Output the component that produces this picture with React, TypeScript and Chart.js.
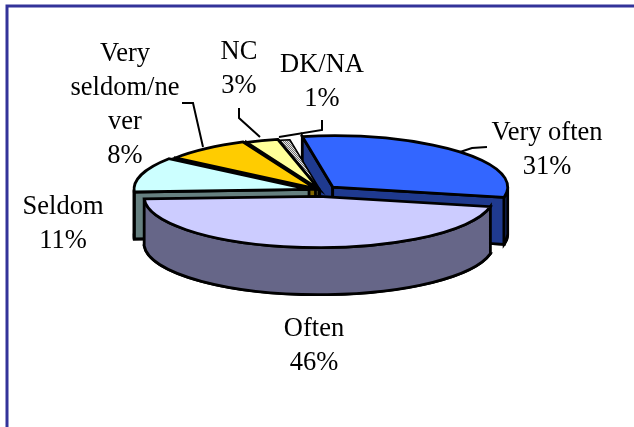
import React, { useEffect, useRef } from "react";
import { Chart, registerables } from "chart.js";

Chart.register(...registerables);

// Survey shares, in percent.
const categories = ["Very often", "Often", "Seldom", "Very seldom/never", "NC", "DK/NA"];
const shares = [31, 46, 11, 8, 3, 1];

// How each category name breaks over lines in its label.
const labelLines = [["Very often"], ["Often"], ["Seldom"], ["Very", "seldom/ne", "ver"], ["NC"], ["DK/NA"]];

const topColors = ["#3366FF", "#CCCCFF", "#CCFFFF", "#FFCC00", "#FFFF99", "#C0C0C0"];
const sideColors = ["#1F3A8F", "#666688", "#668080", "#806600", "#808050", "#606060"];

// Distance each wedge is pulled away from the centre of the pie.
const explode = [17, 20, 12, 8, 5, 1];

// Label anchors: centre x, first baseline.
const labelAnchors = [
  [547, 140],
  [314, 336],
  [63, 214],
  [125, 61],
  [239, 59],
  [322, 72],
];
const LINE_HEIGHT = 34;

const leaders = [
  [[460, 152], [472, 148], [487, 147]],
  [[182, 103], [193, 103], [203, 147]],
  [[239, 108], [239, 118], [260, 137]],
  [[322, 120], [322, 130], [279, 137]],
];

const SQUASH = 0.293; // ratio of the ellipse's height to its width
const DEPTH = 47; // thickness of the pie
const RADIUS = 175;
const PAINT_ORDER = [0, 5, 4, 3, 2, 1];
const TAU = Math.PI * 2;

function dottedFill(): CanvasPattern | string {
  const tile = document.createElement("canvas");
  tile.width = 2;
  tile.height = 2;
  const t = tile.getContext("2d");
  if (!t) return "#C0C0C0";
  t.fillStyle = "#E8E8E8";
  t.fillRect(0, 0, 2, 2);
  t.fillStyle = "#707070";
  t.fillRect(0, 0, 1, 1);
  t.fillRect(1, 1, 1, 1);
  return t.createPattern(tile, "repeat") || "#C0C0C0";
}

// Paints the arcs as extruded elliptical wedges, using the geometry the pie controller computed.
const extrudedPie = {
  id: "extrudedPie",
  beforeDatasetDraw(chart: any, args: any) {
    const { ctx } = chart;
    const arcs = args.meta.data;
    ctx.save();
    ctx.strokeStyle = "#000000";
    ctx.lineJoin = "miter";

    const sector = (i: number, dy: number) => {
      const a = arcs[i];
      const mid = (a.startAngle + a.endAngle) / 2;
      const d = a.options.offset;
      const x = a.x + Math.cos(mid) * d;
      const y = a.y + Math.sin(mid) * d * SQUASH + dy;
      ctx.beginPath();
      ctx.moveTo(x, y);
      ctx.ellipse(x, y, a.outerRadius, a.outerRadius * SQUASH, 0, a.startAngle, a.endAngle);
      ctx.closePath();
    };

    for (const i of PAINT_ORDER) {
      const a = arcs[i];
      const mid = (a.startAngle + a.endAngle) / 2;
      const d = a.options.offset;
      const R = a.outerRadius;
      const rY = R * SQUASH;
      const x = a.x + Math.cos(mid) * d;
      const y = a.y + Math.sin(mid) * d * SQUASH;
      ctx.fillStyle = sideColors[i];
      // The narrowest wedge gets a finer outline so its fill stays visible.
      ctx.lineWidth = shares[i] <= 1 ? 1.6 : 2.8;

      sector(i, DEPTH);
      ctx.fill();
      ctx.stroke();

      // Cut faces that turn toward the viewer.
      const cutFace = (t: number) => {
        const ox = x + Math.cos(t) * R;
        const oy = y + Math.sin(t) * rY;
        ctx.beginPath();
        ctx.moveTo(x, y);
        ctx.lineTo(ox, oy);
        ctx.lineTo(ox, oy + DEPTH);
        ctx.lineTo(x, y + DEPTH);
        ctx.closePath();
        ctx.fill();
        ctx.stroke();
      };
      if (Math.cos(a.startAngle) < 0) cutFace(a.startAngle);
      if (Math.cos(a.endAngle) > 0) cutFace(a.endAngle);

      // Outer rim, where it faces forward.
      for (const shift of [-TAU, 0, TAU]) {
        const from = Math.max(a.startAngle + shift, 0);
        const to = Math.min(a.endAngle + shift, Math.PI);
        if (to <= from) continue;
        ctx.beginPath();
        ctx.ellipse(x, y, R, rY, 0, from, to);
        ctx.ellipse(x, y + DEPTH, R, rY, 0, to, from, true);
        ctx.closePath();
        ctx.fill();
        ctx.stroke();
      }

      sector(i, 0);
      ctx.fillStyle = a.options.backgroundColor;
      ctx.fill();
      ctx.stroke();
    }
    ctx.restore();
    return false;
  },
  afterDraw(chart: any) {
    const { ctx } = chart;
    ctx.save();

    // Frame: top and left rules only.
    ctx.strokeStyle = "#333399";
    ctx.lineWidth = 3;
    ctx.beginPath();
    ctx.moveTo(634, 6);
    ctx.lineTo(7, 6);
    ctx.lineTo(7, 427);
    ctx.stroke();

    ctx.strokeStyle = "#000000";
    ctx.lineWidth = 2;
    for (const path of leaders) {
      ctx.beginPath();
      path.forEach(([px, py], n) => (n ? ctx.lineTo(px, py) : ctx.moveTo(px, py)));
      ctx.stroke();
    }

    ctx.fillStyle = "#000000";
    ctx.font = '26.5px "Liberation Serif"';
    ctx.textAlign = "center";
    ctx.textBaseline = "alphabetic";
    categories.forEach((_, i) => {
      const [cx, first] = labelAnchors[i];
      const lines = [...labelLines[i], `${shares[i]}%`];
      lines.forEach((line, n) => ctx.fillText(line, cx, first + n * LINE_HEIGHT));
    });
    ctx.restore();
  },
};

export default function App() {
  const canvasRef = useRef<HTMLCanvasElement>(null);

  useEffect(() => {
    const canvas = canvasRef.current;
    if (!canvas) return;
    const fills = [...topColors.slice(0, 5), dottedFill()];
    const chart = new Chart(canvas, {
      type: "pie",
      data: {
        labels: categories,
        datasets: [{ data: shares, backgroundColor: fills, offset: explode, borderWidth: 0 }],
      },
      options: {
        animation: false,
        responsive: false,
        rotation: -10,
        radius: RADIUS,
        layout: { padding: { left: 7, right: 0, top: 0, bottom: 46 } },
        plugins: { legend: { display: false }, tooltip: { enabled: false } },
      },
      plugins: [extrudedPie],
    } as any);
    return () => chart.destroy();
  }, []);

  return (
    <div style={{ position: "fixed", left: 0, top: 0, width: 634, height: 427, background: "#FFFFFF" }}>
      <canvas ref={canvasRef} width={634} height={427} style={{ display: "block" }} />
    </div>
  );
}
